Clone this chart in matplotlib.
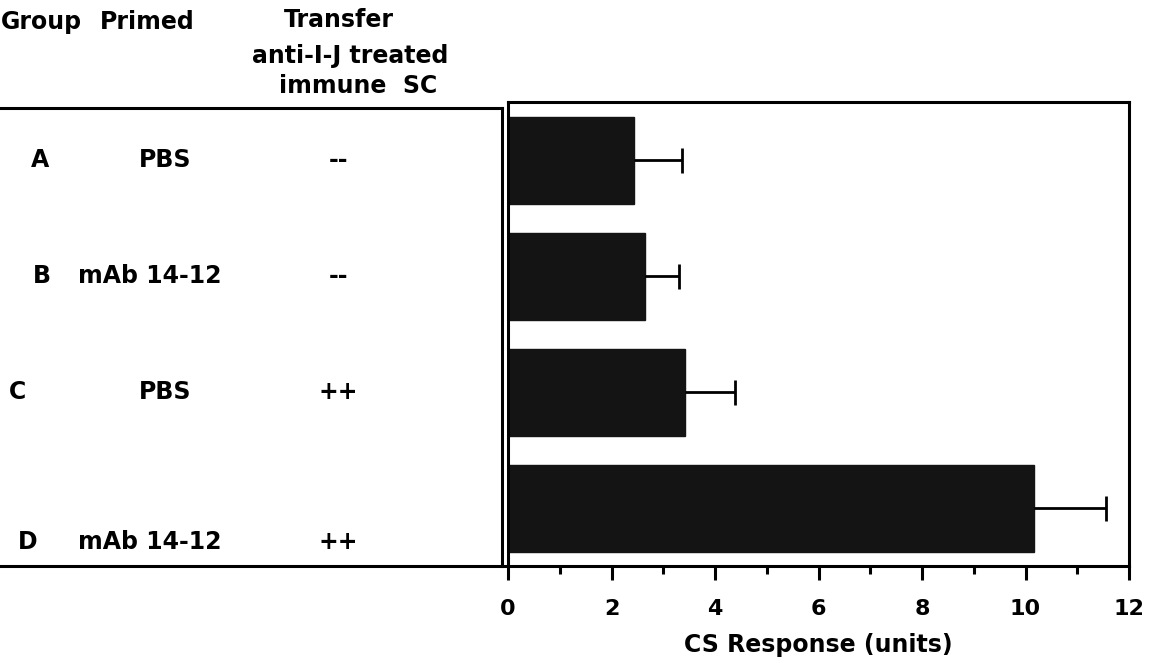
import matplotlib
matplotlib.use("Agg")
import matplotlib.pyplot as plt
from matplotlib.lines import Line2D
from matplotlib.transforms import blended_transform_factory
import numpy as np

# Data
groups = ["A", "B", "C", "D"]
primed = ["PBS", "mAb 14-12", "PBS", "mAb 14-12"]
transfer = ["--", "--", "++", "++"]
cs_response = [2.43, 2.64, 3.42, 10.17]
cs_error = [0.93, 0.66, 0.96, 1.39]
x_ticks = [0, 2, 4, 6, 8, 10, 12]

W, H = 1157, 663
fig = plt.figure(figsize=(W / 100, H / 100), dpi=100)
fig.patch.set_facecolor("white")

FONT = "DejaVu Sans"
FS = 17

def fx(px):
    return px / W

def fy(py):
    return 1 - py / H

# Bar chart panel
ax = fig.add_axes([fx(508), fy(566), fx(1129) - fx(508), fy(102) - fy(566)])
ypos = np.arange(len(groups))
ax.barh(ypos, cs_response, height=0.75, color="#141414", edgecolor="#141414")
_, caps, _ = ax.errorbar(cs_response, ypos,
                         xerr=[np.zeros(len(cs_error)), cs_error],
                         fmt="none", ecolor="black", elinewidth=2.0,
                         capsize=9, capthick=2.0)
# one-sided bars: keep only the outer cap
for cap in caps:
    if np.allclose(cap.get_xdata(), cs_response):
        cap.set_visible(False)

ax.set_xlim(0, 12)
ax.set_ylim(3.5, -0.5)
ax.set_yticks([])
ax.set_xticks(x_ticks)
ax.set_xticks(np.arange(1, 12, 2), minor=True)
ax.set_xticklabels([str(t) for t in x_ticks], fontsize=16, fontweight="bold", family=FONT)
ax.tick_params(axis="x", which="major", direction="out", length=10, width=2.2, pad=14)
ax.tick_params(axis="x", which="minor", direction="out", length=6, width=2.2)
for s in ax.spines.values():
    s.set_linewidth(2.2)
ax.set_xlabel("CS Response (units)", fontsize=FS, fontweight="bold", family=FONT, labelpad=10)

# Table lines on the left
line_kw = dict(color="black", linewidth=2.2, transform=fig.transFigure)
fig.add_artist(Line2D([fx(0), fx(502)], [fy(108), fy(108)], **line_kw))
fig.add_artist(Line2D([fx(502), fx(502)], [fy(108), fy(566)], **line_kw))
fig.add_artist(Line2D([fx(0), fx(508)], [fy(566), fy(566)], **line_kw))

# Column headers
hdr = dict(fontsize=FS, fontweight="bold", family=FONT, va="center")
fig.text(fx(1), fy(22), "Group", ha="left", **hdr)
fig.text(fx(147), fy(22), "Primed", ha="center", **hdr)
fig.text(fx(339), fy(20), "Transfer", ha="center", **hdr)
fig.text(fx(350), fy(56), "anti-I-J treated", ha="center", **hdr)
fig.text(fx(358), fy(86), "immune  SC", ha="center", **hdr)

# Row labels, aligned with the bars
trans = blended_transform_factory(fig.transFigure, ax.transData)
row_shift = [0.0, 0.0, 0.0, 0.29]
group_x = [fx(40), fx(42), fx(17), fx(28)]
primed_x = [fx(165), fx(150), fx(165), fx(150)]
row = dict(fontsize=FS, fontweight="bold", family=FONT, va="center", transform=trans)
for i in range(len(groups)):
    y = ypos[i] + row_shift[i]
    fig.text(group_x[i], y, groups[i], ha="center", **row)
    fig.text(primed_x[i], y, primed[i], ha="center", **row)
    fig.text(fx(338), y, transfer[i], ha="center", **row)

fig.savefig("out.png", dpi=100, facecolor="white")
